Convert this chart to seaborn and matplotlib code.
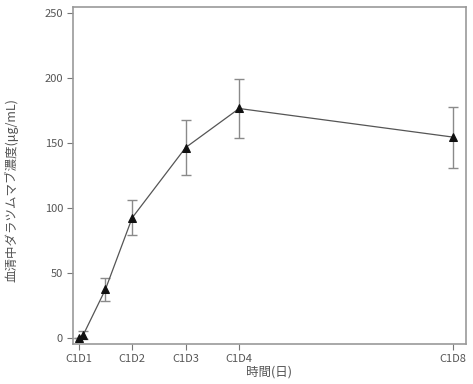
import numpy as np
import pandas as pd
import matplotlib
matplotlib.use('Agg')
import matplotlib.pyplot as plt
import seaborn as sns

# 測定日 (C1D1 = 1日目) と平均値 ± SD
days = [1.0, 1.083, 1.5, 2.0, 3.0, 4.0, 8.0]
conc_mean = [0.0, 2.3, 37.5, 92.5, 146.5, 176.5, 154.5]
conc_sd = [0.0, 3.0, 9.0, 13.5, 21.0, 22.5, 23.5]
tick_days = [1, 2, 3, 4, 8]
tick_labels = ['C1D1', 'C1D2', 'C1D3', 'C1D4', 'C1D8']

sns.set_theme(style='ticks')
plt.rcParams['font.family'] = ['Noto Sans CJK JP', 'DejaVu Sans']

df = pd.DataFrame({'day': days, 'conc': conc_mean, 'sd': conc_sd})

fig = plt.figure(figsize=(4.73, 3.84), dpi=100)
ax = fig.add_axes([0.154, 0.104, 0.831, 0.878])

ax.errorbar(df['day'], df['conc'], yerr=df['sd'], fmt='none',
            ecolor='#8a8a8a', elinewidth=1.0, capsize=3.5, capthick=1.0, zorder=2)
sns.lineplot(data=df, x='day', y='conc', ax=ax, color='#555555', linewidth=0.9,
             marker='^', markersize=5.5, markerfacecolor='#111111',
             markeredgecolor='#111111', zorder=3)

ax.set_xlim(0.89, 8.24)
ax.set_ylim(-4.6, 254.6)
ax.set_xticks(tick_days)
ax.set_xticklabels(tick_labels)
ax.set_yticks([0, 50, 100, 150, 200, 250])

txt = '#555555'
ax.tick_params(axis='both', labelsize=8, colors='#777777', labelcolor=txt,
               length=4, width=0.8, pad=3)
ax.set_xlabel('時間(日)', fontsize=9, color=txt, labelpad=1)
ax.set_ylabel('血清中ダラツムマブ濃度(μg/mL)', fontsize=9, color=txt)
ax.yaxis.set_label_coords(-0.137, 0.457)

for s in ax.spines.values():
    s.set_color('#999999')
    s.set_linewidth(1.2)

fig.savefig('out.png', dpi=100)
